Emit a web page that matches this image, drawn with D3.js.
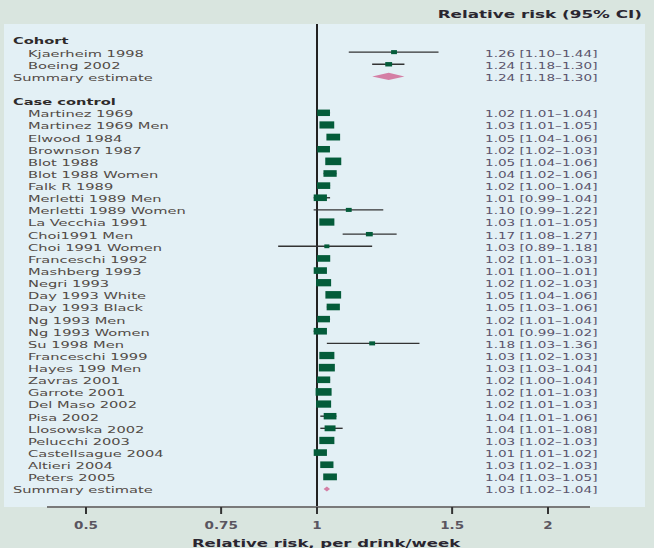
<!DOCTYPE html>
<html>
<head>
<meta charset="utf-8">
<script src="https://cdn.jsdelivr.net/npm/d3@7"></script>
<style>
  html, body { margin: 0; padding: 0; background: #d9e5df; }
  svg { display: block; font-family: "DejaVu Sans", Verdana, sans-serif; }
</style>
</head>
<body>
<svg id="chart" width="654" height="548"></svg>
<script>
// Cohort studies
const cohortNames = ["Kjaerheim 1998", "Boeing 2002"];
const cohortRR = [1.26, 1.24];
const cohortLo = [1.10, 1.18];
const cohortHi = [1.44, 1.30];
const cohortWeight = [0.8, 1.1];
const cohortSummary = [1.24, 1.18, 1.30];

// Case-control studies
const caseNames = [
  "Martinez 1969", "Martinez 1969 Men", "Elwood 1984", "Brownson 1987", "Blot 1988",
  "Blot 1988 Women", "Falk R 1989", "Merletti 1989 Men", "Merletti 1989 Women", "La Vecchia 1991",
  "Choi1991 Men", "Choi 1991 Women", "Franceschi 1992", "Mashberg 1993", "Negri 1993",
  "Day 1993 White", "Day 1993 Black", "Ng 1993 Men", "Ng 1993 Women", "Su 1998 Men",
  "Franceschi 1999", "Hayes 199 Men", "Zavras 2001", "Garrote 2001", "Del Maso 2002",
  "Pisa 2002", "Llosowska 2002", "Pelucchi 2003", "Castellsague 2004", "Altieri 2004",
  "Peters 2005"
];
const caseRR = [1.02, 1.03, 1.05, 1.02, 1.05, 1.04, 1.02, 1.01, 1.10, 1.03,
                1.17, 1.03, 1.02, 1.01, 1.02, 1.05, 1.05, 1.02, 1.01, 1.18,
                1.03, 1.03, 1.02, 1.02, 1.02, 1.04, 1.04, 1.03, 1.01, 1.03, 1.04];
const caseLo = [1.01, 1.01, 1.04, 1.02, 1.04, 1.02, 1.00, 0.99, 0.99, 1.01,
                1.08, 0.89, 1.01, 1.00, 1.02, 1.04, 1.03, 1.01, 0.99, 1.03,
                1.02, 1.03, 1.00, 1.01, 1.01, 1.01, 1.01, 1.02, 1.01, 1.02, 1.03];
const caseHi = [1.04, 1.05, 1.06, 1.03, 1.06, 1.06, 1.04, 1.04, 1.22, 1.05,
                1.27, 1.18, 1.03, 1.01, 1.03, 1.06, 1.06, 1.04, 1.02, 1.36,
                1.03, 1.04, 1.04, 1.03, 1.03, 1.06, 1.08, 1.03, 1.02, 1.03, 1.05];
const caseWeight = [3.8, 5.1, 4.4, 3.8, 6.0, 4.1, 4.1, 4.1, 0.8, 5.3,
                    1.1, 0.6, 4.1, 4.1, 5.3, 5.8, 4.1, 3.8, 4.1, 0.8,
                    5.3, 6.0, 4.1, 6.0, 5.3, 3.8, 2.8, 5.3, 4.1, 4.1, 4.4];
const caseSummary = [1.03, 1.02, 1.04];

const xTicks = [0.5, 0.75, 1, 1.5, 2];
const xTickLabels = ["0.5", "0.75", "1", "1.5", "2"];

// ---- layout ----
const W = 654, H = 548;
const svg = d3.select("#chart");
const fmt = d3.format(".2f");
const ciText = (rr, lo, hi) => `${fmt(rr)} [${fmt(lo)}\u2013${fmt(hi)}]`;

// Row list: section headers, studies, summaries, blank spacer
const rows = [];
rows.push({ kind: "header", label: "Cohort" });
cohortNames.forEach((n, i) => rows.push({ kind: "study", label: n, rr: cohortRR[i], lo: cohortLo[i], hi: cohortHi[i], w: cohortWeight[i] }));
rows.push({ kind: "summary", label: "Summary estimate", rr: cohortSummary[0], lo: cohortSummary[1], hi: cohortSummary[2], size: 3.6 });
rows.push({ kind: "blank" });
rows.push({ kind: "header", label: "Case control" });
caseNames.forEach((n, i) => rows.push({ kind: "study", label: n, rr: caseRR[i], lo: caseLo[i], hi: caseHi[i], w: caseWeight[i] }));
rows.push({ kind: "summary", label: "Summary estimate", rr: caseSummary[0], lo: caseSummary[1], hi: caseSummary[2], size: 2.6 });

const y = d3.scalePoint().domain(d3.range(rows.length)).range([40, 489]);
const x = d3.scaleLog().domain([0.5, 2]).range([86, 548]);
const boxW = d3.scaleSqrt().domain([0, 6]).range([0, 16]);

// background panels
svg.append("rect").attr("width", W).attr("height", H).attr("fill", "#d9e5df");
svg.append("rect").attr("x", 4).attr("y", 24).attr("width", 641).attr("height", 483).attr("fill", "#e3f0f5");

// horizontally widened text helper
const SX = 1.54;
function wideText(parent, tx, ty, str, o = {}) {
  const g = parent.append("g").attr("transform", `translate(${tx},${ty}) scale(${o.sx || SX},1)`);
  return g.append("text")
    .attr("text-anchor", o.anchor || "start")
    .attr("dy", "0.36em")
    .attr("font-size", o.size || 9.5)
    .attr("font-weight", o.bold ? "bold" : "normal")
    .attr("fill", o.fill || "#524b46")
    .text(str);
}

// header
wideText(svg, 642, 14, "Relative risk (95% CI)", { anchor: "end", bold: true, size: 10.5, sx: 1.6, fill: "#2a2630" });

// left labels and right value labels
rows.forEach((r, i) => {
  const yy = y(i) + 1;
  if (r.kind === "header") {
    wideText(svg, 13, yy, r.label, { bold: true, fill: "#2e2a2a" });
  } else if (r.kind === "study") {
    wideText(svg, 28, yy, r.label);
    wideText(svg, 485, yy, ciText(r.rr, r.lo, r.hi), { sx: 1.43, fill: "#5a546c" });
  } else if (r.kind === "summary") {
    wideText(svg, 13, yy, r.label);
    wideText(svg, 485, yy, ciText(r.rr, r.lo, r.hi), { sx: 1.43, fill: "#5a546c" });
  }
});

// reference line at RR = 1
svg.append("line")
  .attr("x1", x(1)).attr("x2", x(1))
  .attr("y1", 24).attr("y2", 514)
  .attr("stroke", "#222").attr("stroke-width", 2);

// study whiskers and boxes
const studies = rows.map((r, i) => ({ ...r, i })).filter(r => r.kind === "study");
svg.append("g").selectAll("line").data(studies).join("line")
  .attr("x1", d => x(d.lo)).attr("x2", d => x(d.hi))
  .attr("y1", d => y(d.i)).attr("y2", d => y(d.i))
  .attr("stroke", "#333").attr("stroke-width", 1.4);

svg.append("g").selectAll("rect").data(studies).join("rect")
  .attr("x", d => x(d.rr) - boxW(d.w) / 2)
  .attr("width", d => boxW(d.w))
  .attr("y", d => y(d.i) - (2 + boxW(d.w) * 0.35) / 2)
  .attr("height", d => 2 + boxW(d.w) * 0.35)
  .attr("fill", "#045c3a");

// summary diamonds
const sums = rows.map((r, i) => ({ ...r, i })).filter(r => r.kind === "summary");
svg.append("g").selectAll("path").data(sums).join("path")
  .attr("d", d => {
    const cy = y(d.i);
    return `M${x(d.lo)},${cy} L${x(d.rr)},${cy - d.size} L${x(d.hi)},${cy} L${x(d.rr)},${cy + d.size} Z`;
  })
  .attr("fill", "#d47fa5");

// x axis
const axisY = 507;
svg.append("line")
  .attr("x1", 47).attr("x2", 590).attr("y1", axisY).attr("y2", axisY)
  .attr("stroke", "#7a7a7a").attr("stroke-width", 2);
const tk = svg.append("g");
tk.selectAll("line").data(xTicks).join("line")
  .attr("x1", d => x(d)).attr("x2", d => x(d))
  .attr("y1", axisY).attr("y2", axisY + 7)
  .attr("stroke", "#333").attr("stroke-width", 2);
xTicks.forEach((t, k) => {
  wideText(svg, x(t), 525, xTickLabels[k], { anchor: "middle", bold: true, fill: "#5a5560", size: 10, sx: 1.35 });
});
wideText(svg, 326, 543, "Relative risk, per drink/week", { anchor: "middle", bold: true, size: 11, sx: 1.5, fill: "#2a2630" });
</script>
</body>
</html>
